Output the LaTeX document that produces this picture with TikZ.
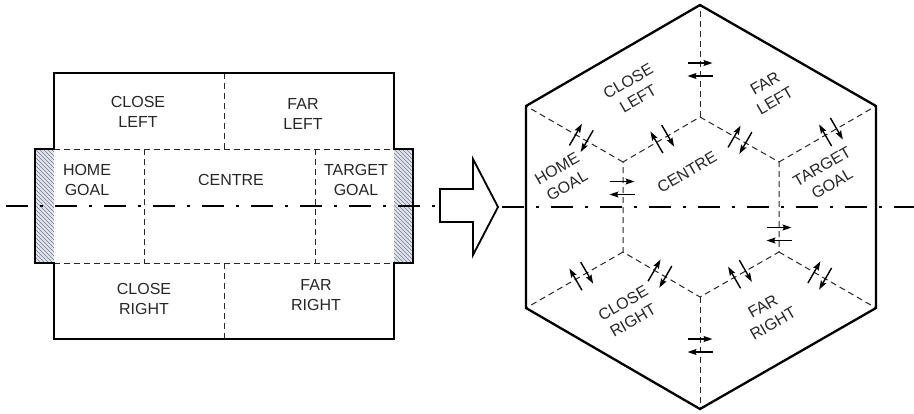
\documentclass[tikz,border=0pt]{standalone}
\usepackage{fontspec}
\setmainfont{Liberation Sans}
\usetikzlibrary{arrows.meta,calc}
\definecolor{hatchbg}{RGB}{226,230,240}
\definecolor{hatchfg}{RGB}{115,120,132}
\newcommand{\flowpair}[5]{%
  \coordinate (fp) at #1;
  \draw[flow] ($(fp)+({-6.5*(#2)-12.5*(#4)},{-6.5*(#3)-12.5*(#5)})$) -- ++({25*(#4)},{25*(#5)});
  \draw[flow] ($(fp)+({6.5*(#2)+12.5*(#4)},{6.5*(#3)+12.5*(#5)})$) -- ++({-25*(#4)},{-25*(#5)});
}
\begin{document}
\begin{tikzpicture}[x=1pt,y=-1pt,
  thickln/.style={line width=2.3pt, line join=miter},
  dashln/.style={line width=1pt, dash pattern=on 6pt off 4pt, draw=black!85},
  centreln/.style={line width=2.2pt, dash pattern=on 22pt off 12pt on 3pt off 12pt},
  hatchln/.style={line width=0.55pt, draw=hatchfg},
  lbl/.style={font=\fontsize{16}{20}\selectfont, align=center, text=black!85, inner sep=0pt},
  flow/.style={line width=1.4pt, -{Stealth[length=9pt,width=6pt,inset=1.5pt]}}
]
\useasboundingbox (0,0) rectangle (914,413);

% ---------- left pitch ----------
\foreach \xa/\xb in {35/54,394/413}{
  \begin{scope}
    \clip (\xa,149) rectangle (\xb,263);
    \fill[hatchbg] (\xa,149) rectangle (\xb,263);
    \foreach \k in {0,...,38} \draw[hatchln] (\xa,121+\k*4) -- ++(25,25);
  \end{scope}
}
\draw[dashln] (54,149) -- (394,149);
\draw[dashln] (54,263) -- (394,263);
\draw[dashln] (224,73) -- (224,149);
\draw[dashln] (224,263) -- (224,339);
\draw[dashln] (144,149) -- (144,263);
\draw[dashln] (315,149) -- (315,263);
\draw[thickln] (54,73) -- (394,73) -- (394,149) -- (413,149) -- (413,263)
  -- (394,263) -- (394,339) -- (54,339) -- (54,263) -- (35,263) -- (35,149)
  -- (54,149) -- cycle;

\node[lbl] (pcl) at (138,112) {CLOSE\\LEFT};
\node[lbl] (pfl) at (303,114) {FAR\\LEFT};
\node[lbl] (phg) at (87,180) {HOME\\GOAL};
\node[lbl] (pce) at (231,180) {CENTRE};
\node[lbl] (ptg) at (356,180) {TARGET\\GOAL};
\node[lbl] (pcr) at (144,299) {CLOSE\\RIGHT};
\node[lbl] (pfr) at (316,295) {FAR\\RIGHT};

% ---------- centre line ----------
\draw[centreln] (6,206) -- (440,206);

% ---------- big arrow ----------
\draw[line width=1.8pt, fill=white, line join=miter]
  (440,189) -- (473,189) -- (473,159) -- (498,207) -- (473,255) -- (473,222) -- (440,222) -- cycle;

% ---------- hexagon ----------
\coordinate (OT) at (700,5);
\coordinate (OUR) at (876,106);
\coordinate (OLR) at (876,308);
\coordinate (OB) at (700,409);
\coordinate (OLL) at (526,308);
\coordinate (OUL) at (526,106);
\coordinate (IT) at (700,117);
\coordinate (IUR) at (779,162);
\coordinate (ILR) at (779,252);
\coordinate (IB) at (700,297);
\coordinate (ILL) at (623,252);
\coordinate (IUL) at (623,162);

\draw[dashln] (IT) -- (IUR) -- (ILR) -- (IB) -- (ILL) -- (IUL) -- cycle;
\draw[dashln] (IT) -- (OT);
\draw[dashln] (IUR) -- (OUR);
\draw[dashln] (ILR) -- (OLR);
\draw[dashln] (IB) -- (OB);
\draw[dashln] (ILL) -- (OLL);
\draw[dashln] (IUL) -- (OUL);
\draw[centreln] (502,207) -- (914,207);
\draw[thickln] (OT) -- (OUR) -- (OLR) -- (OB) -- (OLL) -- (OUL) -- cycle;

% flow arrows
\flowpair{(700,69.5)}{0}{1}{1}{0}
\flowpair{(622,188)}{0}{1}{1}{0}
\flowpair{(779,234)}{0}{1}{1}{0}
\flowpair{(700,345.5)}{0}{1}{1}{0}
\flowpair{($(OUL)!0.57!(IUL)$)}{0.866}{0.5}{0.5}{-0.866}
\flowpair{($(IUL)!0.51!(IT)$)}{0.866}{-0.5}{-0.5}{-0.866}
\flowpair{($(IT)!0.506!(IUR)$)}{0.866}{0.5}{0.5}{-0.866}
\flowpair{($(IUR)!0.536!(OUR)$)}{0.866}{-0.5}{-0.5}{-0.866}
\flowpair{($(OLL)!0.57!(ILL)$)}{0.866}{-0.5}{-0.5}{-0.866}
\flowpair{($(ILL)!0.48!(IB)$)}{0.866}{0.5}{0.5}{-0.866}
\flowpair{($(IB)!0.506!(ILR)$)}{0.866}{-0.5}{-0.5}{-0.866}
\flowpair{($(ILR)!0.42!(OLR)$)}{0.866}{0.5}{0.5}{-0.866}

% labels
\node[lbl, rotate=30] (hcl) at (633,90) {CLOSE\\LEFT};
\node[lbl, rotate=30] (hfl) at (770,92) {FAR\\LEFT};
\node[lbl, rotate=30] (hhg) at (562,177) {HOME\\GOAL};
\node[lbl, rotate=30] (hce) at (687,172) {CENTRE};
\node[lbl, rotate=30] (htg) at (827,175) {TARGET\\GOAL};
\node[lbl, rotate=30] (hcr) at (628,312) {CLOSE\\RIGHT};
\node[lbl, rotate=30] (hfr) at (768,315) {FAR\\RIGHT};
\end{tikzpicture}
\end{document}
